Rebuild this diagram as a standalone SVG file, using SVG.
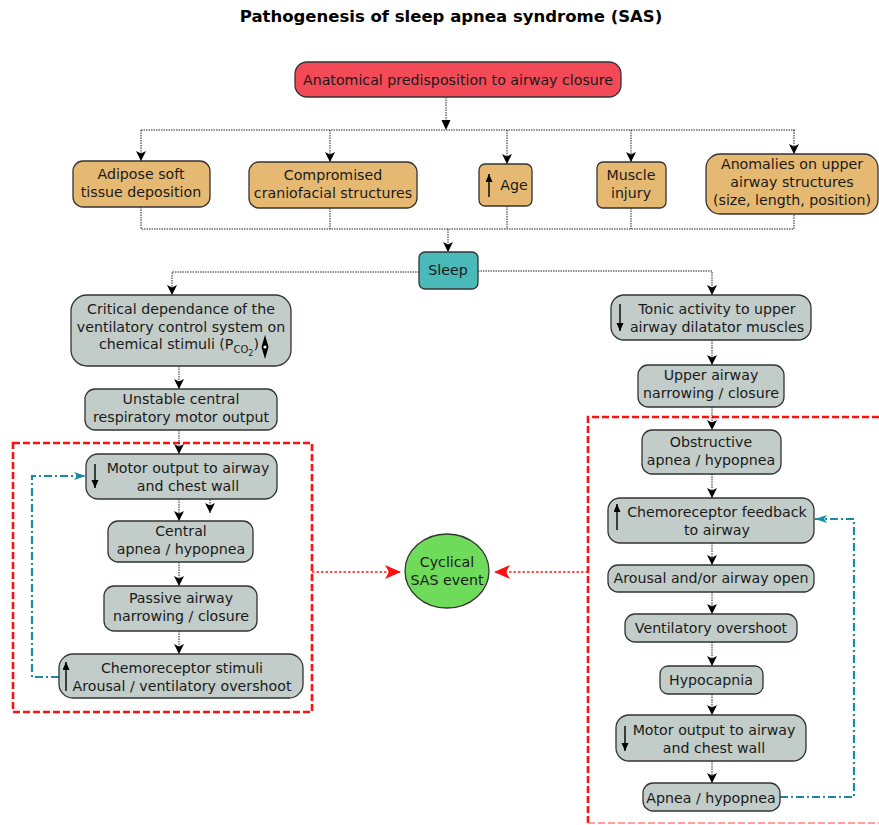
<svg xmlns="http://www.w3.org/2000/svg" width="879" height="825" viewBox="0 0 879 825">
  <style>
    text { font-family: "DejaVu Sans", "Liberation Sans", sans-serif; font-size: 14.2px; fill: #1a1a1a; text-anchor: middle; }
    .title { font-weight: bold; font-size: 16.5px; fill: #000; }
    .box { stroke: #333; stroke-width: 1.3; }
    .orange { fill: #e6b972; }
    .grey { fill: #c2ccc8; }
    .flow { fill: none; stroke: #222; stroke-width: 1; stroke-dasharray: 1.5 1; marker-end: url(#arr); }
    .line { fill: none; stroke: #222; stroke-width: 1; stroke-dasharray: 1.5 1; }
    .red { fill: none; stroke: #ff1a1a; stroke-width: 1.6; stroke-dasharray: 2.5 2; marker-end: url(#arrRed); }
    .loop { fill: none; stroke: #1b8aa3; stroke-width: 2.2; stroke-dasharray: 8 3 2 3; marker-end: url(#arrTeal); }
    .frame { fill: none; stroke: #ff1010; stroke-width: 2.6; stroke-dasharray: 7 3; }
    .sign { stroke: #000; stroke-width: 1.4; marker-end: url(#tip); }
  </style>
  <defs>
    <marker id="arr" markerUnits="userSpaceOnUse" markerWidth="10" markerHeight="12" refX="10" refY="5" orient="auto">
      <path d="M0,0 L10,5 L0,10 L2.5,5 z" fill="#000"/>
    </marker>
    <marker id="arrRed" markerUnits="userSpaceOnUse" markerWidth="16" markerHeight="14" refX="16" refY="7" orient="auto">
      <path d="M0,0 L16,7 L0,14 L4,7 z" fill="#ff1010"/>
    </marker>
    <marker id="arrTeal" markerUnits="userSpaceOnUse" markerWidth="12" markerHeight="10" refX="12" refY="4" orient="auto">
      <path d="M0,0 L12,4 L0,8 L3,4 z" fill="#1b8aa3"/>
    </marker>
    <marker id="tip" markerUnits="userSpaceOnUse" markerWidth="8" markerHeight="8" refX="8" refY="3.5" orient="auto">
      <path d="M0,0 L8,3.5 L0,7 z" fill="#000"/>
    </marker>
  </defs>

  <text class="title" x="451" y="22">Pathogenesis of sleep apnea syndrome (SAS)</text>

  <!-- feedback-loop frames -->
  <rect class="frame" x="13" y="443" width="299" height="269"/>
  <path class="frame" d="M588,823 V417 H879"/>
  <path d="M588,823 H879" fill="none" stroke="#ff8080" stroke-width="1.3" stroke-dasharray="7 3"/>

  <g id="connectors">
    <path class="line" d="M446,97 V124"/>
    <path d="M441.5,120 L446,130 L450.5,120 z" fill="#000"/>
    <path class="line" d="M141,130 H795"/>
    <path class="flow" d="M141,130 V161"/>
    <path class="flow" d="M330,130 V162"/>
    <path class="flow" d="M507,130 V164"/>
    <path class="flow" d="M631,130 V162"/>
    <path class="flow" d="M794,130 V154"/>
    <path class="line" d="M141,207 V229 H794 V214"/>
    <path class="line" d="M330,208 V229"/>
    <path class="line" d="M507,206 V229"/>
    <path class="line" d="M631,208 V229"/>
    <path class="flow" d="M448,229 V252"/>
    <path class="flow" d="M419,272 H172 V295"/>
    <path class="flow" d="M478,271 H712 V295"/>
    <!-- central branch -->
    <path class="flow" d="M179,366 V389"/>
    <path class="flow" d="M179,430 V454"/>
    <path class="flow" d="M179,499 V521"/>
    <path class="flow" d="M210,492 V513"/>
    <path class="flow" d="M179,562 V586"/>
    <path class="flow" d="M179,631 V654"/>
    <path class="loop" d="M59,677 H32 V476 H86"/>
    <!-- obstructive branch -->
    <path class="flow" d="M712,340 V365"/>
    <path class="flow" d="M712,407 V430"/>
    <path class="flow" d="M712,474 V498"/>
    <path class="flow" d="M712,543 V565"/>
    <path class="flow" d="M712,592 V614"/>
    <path class="flow" d="M712,642 V666"/>
    <path class="flow" d="M712,694 V715"/>
    <path class="flow" d="M712,761 V783"/>
    <path class="loop" d="M780,797 H854 V519 H815"/>
    <!-- into the cyclical event -->
    <path class="red" d="M312,572 H401"/>
    <path class="red" d="M588,572 H494"/>
  </g>

  <g id="anatomical">
    <rect class="box" x="295" y="62" width="326" height="35" rx="12" fill="#f44a58"/>
    <text x="458" y="85">Anatomical predisposition to airway closure</text>
  </g>
  <g id="adipose">
    <rect class="box orange" x="73" y="161" width="137" height="46" rx="10"/>
    <text x="141" y="179">Adipose soft</text>
    <text x="141" y="197">tissue deposition</text>
  </g>
  <g id="craniofacial">
    <rect class="box orange" x="249" y="162" width="168" height="46" rx="10"/>
    <text x="333" y="180">Compromised</text>
    <text x="333" y="198">craniofacial structures</text>
  </g>
  <g id="age">
    <rect class="box orange" x="479" y="164" width="53" height="42" rx="6"/>
    <line class="sign" x1="489" y1="197" x2="489" y2="174"/>
    <text x="514" y="190">Age</text>
  </g>
  <g id="muscle">
    <rect class="box orange" x="597" y="162" width="69" height="46" rx="6"/>
    <text x="631" y="180">Muscle</text>
    <text x="631" y="198">injury</text>
  </g>
  <g id="anomalies">
    <rect class="box orange" x="706" y="154" width="172" height="60" rx="14"/>
    <text x="792" y="169">Anomalies on upper</text>
    <text x="792" y="187">airway structures</text>
    <text x="792" y="205">(size, length, position)</text>
  </g>
  <g id="sleep">
    <rect class="box" x="419" y="252" width="59" height="37" rx="6" fill="#49b9b9"/>
    <text x="448" y="275">Sleep</text>
  </g>

  <g id="critical">
    <rect class="box grey" x="71" y="295" width="220" height="71" rx="16"/>
    <text x="181" y="314">Critical dependance of the</text>
    <text x="181" y="332">ventilatory control system on</text>
    <text x="99" y="349" style="text-anchor:start">chemical stimuli (P<tspan font-size="10" dy="4">CO</tspan><tspan font-size="8" dy="3">2</tspan><tspan dy="-7">)</tspan></text>
    <path d="M265,335 L268.5,347 L265,359 L261.5,347 z" fill="#000"/>
    <circle cx="265" cy="347" r="1.6" fill="#fff"/>
  </g>
  <g id="unstable">
    <rect class="box grey" x="85" y="389" width="192" height="41" rx="10"/>
    <text x="181" y="404">Unstable central</text>
    <text x="181" y="422">respiratory motor output</text>
  </g>
  <g id="motorLeft">
    <rect class="box grey" x="86" y="454" width="191" height="45" rx="12"/>
    <line class="sign" x1="95" y1="464" x2="95" y2="488"/>
    <text x="188" y="473">Motor output to airway</text>
    <text x="188" y="491">and chest wall</text>
  </g>
  <g id="central">
    <rect class="box grey" x="108" y="521" width="145" height="41" rx="10"/>
    <text x="181" y="536">Central</text>
    <text x="181" y="554">apnea / hypopnea</text>
  </g>
  <g id="passive">
    <rect class="box grey" x="104" y="586" width="153" height="45" rx="10"/>
    <text x="181" y="603">Passive airway</text>
    <text x="181" y="621">narrowing / closure</text>
  </g>
  <g id="chemoStimuli">
    <rect class="box grey" x="59" y="654" width="244" height="44" rx="14"/>
    <line class="sign" x1="66" y1="691" x2="66" y2="662"/>
    <text x="182" y="673">Chemoreceptor stimuli</text>
    <text x="182" y="691">Arousal / ventilatory overshoot</text>
  </g>

  <g id="cyclical">
    <ellipse cx="447" cy="571" rx="42" ry="37" fill="#6fdb5a" stroke="#333" stroke-width="1.3"/>
    <text x="447" y="567">Cyclical</text>
    <text x="447" y="585">SAS event</text>
  </g>

  <g id="tonic">
    <rect class="box grey" x="611" y="295" width="200" height="45" rx="13"/>
    <line class="sign" x1="620" y1="304" x2="620" y2="331"/>
    <text x="717" y="314">Tonic activity to upper</text>
    <text x="717" y="332">airway dilatator muscles</text>
  </g>
  <g id="upperAirway">
    <rect class="box grey" x="638" y="365" width="146" height="42" rx="10"/>
    <text x="711" y="380">Upper airway</text>
    <text x="711" y="398">narrowing / closure</text>
  </g>
  <g id="obstructive">
    <rect class="box grey" x="642" y="430" width="139" height="44" rx="10"/>
    <text x="711" y="447">Obstructive</text>
    <text x="711" y="465">apnea / hypopnea</text>
  </g>
  <g id="chemoFeedback">
    <rect class="box grey" x="608" y="498" width="206" height="45" rx="12"/>
    <line class="sign" x1="617" y1="530" x2="617" y2="504"/>
    <text x="717" y="517">Chemoreceptor feedback</text>
    <text x="717" y="535">to airway</text>
  </g>
  <g id="arousal">
    <rect class="box grey" x="608" y="565" width="206" height="27" rx="10"/>
    <text x="711" y="583">Arousal and/or airway open</text>
  </g>
  <g id="overshoot">
    <rect class="box grey" x="625" y="614" width="172" height="28" rx="10"/>
    <text x="711" y="633">Ventilatory overshoot</text>
  </g>
  <g id="hypocapnia">
    <rect class="box grey" x="660" y="666" width="103" height="28" rx="8"/>
    <text x="711" y="685">Hypocapnia</text>
  </g>
  <g id="motorRight">
    <rect class="box grey" x="616" y="715" width="190" height="46" rx="13"/>
    <line class="sign" x1="625" y1="726" x2="625" y2="751"/>
    <text x="714" y="735">Motor output to airway</text>
    <text x="714" y="753">and chest wall</text>
  </g>
  <g id="apnea">
    <rect class="box grey" x="643" y="783" width="137" height="28" rx="10"/>
    <text x="711" y="803">Apnea / hypopnea</text>
  </g>
</svg>
